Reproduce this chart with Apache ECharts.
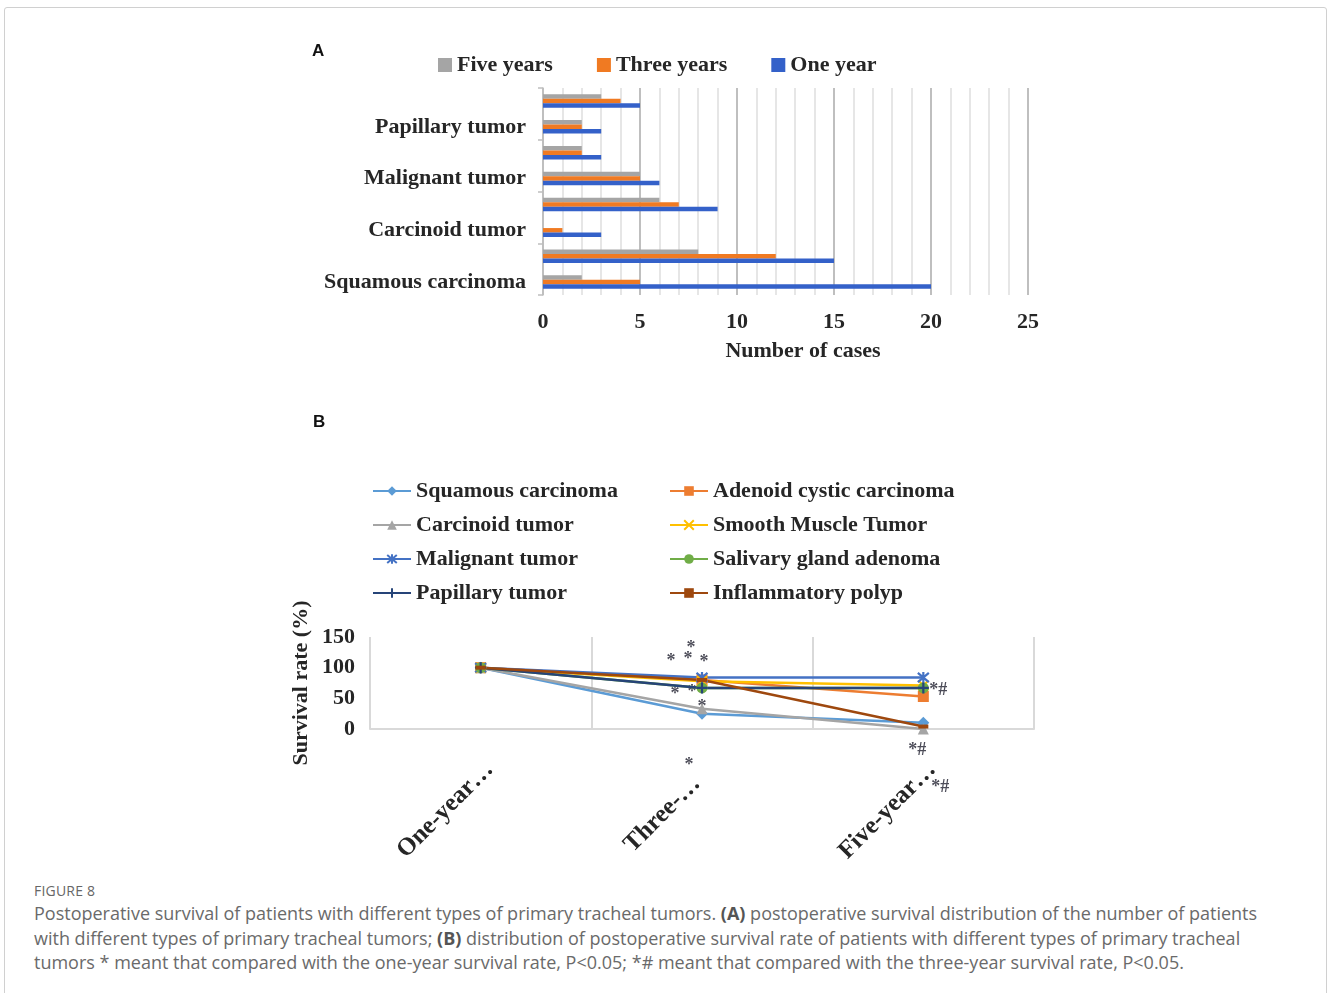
<!DOCTYPE html>
<html>
<head>
<meta charset="utf-8">
<script src="https://cdn.jsdelivr.net/npm/echarts@6/dist/echarts.min.js"></script>
<style>
html,body{margin:0;padding:0;background:#fff;}
#frame{position:absolute;left:4px;top:7px;width:1323px;height:1000px;border:1px solid #d0d0d0;border-radius:3px;box-sizing:border-box;}
#chart{position:absolute;left:0;top:0;width:1328px;height:870px;}
#fig{position:absolute;left:34px;top:881px;font-family:'Open Sans',sans-serif;font-size:14px;color:#666;letter-spacing:0.2px;}
#cap{position:absolute;left:34px;top:901px;font-family:'Open Sans',sans-serif;font-size:18px;line-height:24.5px;color:#6a6a6a;white-space:nowrap;}
#cap b{font-weight:bold;color:#555;}
</style>
</head>
<body>
<div id="frame"></div>
<div id="chart"></div>
<div id="fig">FIGURE 8</div>
<div id="cap">Postoperative survival of patients with different types of primary tracheal tumors. <b>(A)</b> postoperative survival distribution of the number of patients<br>with different types of primary tracheal tumors; <b>(B)</b> distribution of postoperative survival rate of patients with different types of primary tracheal<br>tumors * meant that compared with the one-year survival rate, P&lt;0.05; *# meant that compared with the three-year survival rate, P&lt;0.05.</div>
<script>
// ---------- Panel A data ----------
const tumorTypes = ['Squamous carcinoma','Adenoid cystic carcinoma','Carcinoid tumor','Smooth Muscle Tumor','Malignant tumor','Salivary gland adenoma','Papillary tumor','Inflammatory polyp'];
const oneYearCases   = [20, 15, 3, 9, 6, 3, 3, 5];
const threeYearCases = [5, 12, 1, 7, 5, 2, 2, 4];
const fiveYearCases  = [2, 8, 0, 6, 5, 2, 2, 3];

// ---------- Panel B data ----------
const periods = ['One-year…', 'Three-…', 'Five-year…'];
const squamousRate     = [100, 25, 10];
const adenoidRate      = [100, 80, 53];
const carcinoidRate    = [100, 33, 0];
const smoothMuscleRate = [100, 78, 71];
const malignantRate    = [100, 84, 84];
const salivaryRate     = [100, 67, 67];
const papillaryRate    = [100, 67, 67];
const inflammatoryRate = [100, 80, 4];
// significance marks: [position along period axis (0..3), survival value, text]
const sigMarks = [
  [1.450, 132, '*'], [1.360, 111, '*'], [1.437, 113, '*'], [1.509, 108, '*'],
  [1.378, 57, '*'], [1.455, 60, '*'], [1.500, 36, '*'], [1.441, -60, '*'],
  [2.567, 63, '*#'], [2.472, -34, '*#'], [2.576, -95, '*#']
];

const serif = 'Liberation Serif';
const txt = '#262626';
const big = {fontFamily: serif, fontSize: 22, fontWeight: 'bold', color: txt};
const periodFont = {fontFamily: serif, fontSize: 25, fontWeight: 'bold', color: txt};

const xPath = 'path://M0,0L10,10M10,0L0,10';
const starPath = 'path://M0,0L10,10M10,0L0,10M5,-1L5,11';
const plusPath = 'path://M5,0L5,10M0,5L10,5';
const dashPath = 'path://M0,0L12,0L12,4L0,4Z';

function lineSeries(name, data, color, symbol, size, stroke) {
  return {
    name: name, type: 'line', xAxisIndex: 1, yAxisIndex: 1, data: data,
    symbol: symbol, symbolSize: size,
    lineStyle: {color: color, width: 2.5},
    itemStyle: {color: stroke ? 'rgba(0,0,0,0)' : color, borderColor: color, borderWidth: stroke ? 2.2 : 0},
    emphasis: {disabled: true}, animation: false
  };
}

// per-label nudge styles for the rotated period labels
const periodRich = {
  p0: Object.assign({padding: [0, 0, 0, 0]}, periodFont),
  p1: Object.assign({padding: [0, 20, 0, 0]}, periodFont),
  p2: Object.assign({padding: [0, 0, 0, 0]}, periodFont)
};

const chart = echarts.init(document.getElementById('chart'));
chart.setOption({
  backgroundColor: 'transparent',
  animation: false,
  graphic: [
    {type: 'text', left: 312, top: 43, style: {text: 'A', font: 'bold 17px "Liberation Sans"', fill: '#111'}},
    {type: 'text', left: 313, top: 414, style: {text: 'B', font: 'bold 17px "Liberation Sans"', fill: '#111'}}
  ],
  legend: [
    {data: ['Five years', 'Three years', 'One year'], left: 438, top: 54, padding: 0, itemWidth: 14, itemHeight: 14, itemGap: 44,
     icon: 'rect', textStyle: big},
    {data: ['Squamous carcinoma', 'Carcinoid tumor', 'Malignant tumor', 'Papillary tumor'], orient: 'vertical',
     left: 372, top: 480, padding: 0, itemWidth: 38, itemHeight: 12, itemGap: 12, textStyle: big},
    {data: ['Adenoid cystic carcinoma', 'Smooth Muscle Tumor', 'Salivary gland adenoma', 'Inflammatory polyp'], orient: 'vertical',
     left: 669, top: 480, padding: 0, itemWidth: 38, itemHeight: 12, itemGap: 12, textStyle: big}
  ],
  grid: [
    {left: 543, top: 88, width: 485, height: 207},
    {left: 370, top: 637, width: 664, height: 92}
  ],
  xAxis: [
    {gridIndex: 0, type: 'value', min: 0, max: 25, interval: 5,
     axisLine: {show: false}, axisTick: {show: false},
     axisLabel: Object.assign({margin: 16}, big),
     splitLine: {lineStyle: {color: '#bfbfbf', width: 2}},
     minorTick: {show: false, splitNumber: 5},
     minorSplitLine: {show: true, lineStyle: {color: '#e6e6e6', width: 2}},
     name: 'Number of cases', nameLocation: 'middle', nameGap: 45,
     nameTextStyle: Object.assign({padding: [0, 0, 0, 35]}, big)},
    {gridIndex: 1, type: 'category', data: periods, boundaryGap: true,
     axisLine: {lineStyle: {color: '#d9d9d9', width: 2}}, axisTick: {show: false},
     splitLine: {show: true, lineStyle: {color: '#d9d9d9', width: 2}},
     axisLabel: Object.assign({rotate: 45, interval: 0, margin: 28, verticalAlign: 'top',
       formatter: (v, i) => '{p' + i + '|' + v + '}', rich: periodRich}, periodFont)},
    {gridIndex: 1, type: 'value', min: 0, max: 3, show: false}
  ],
  yAxis: [
    {gridIndex: 0, type: 'category', data: tumorTypes,
     axisLine: {lineStyle: {color: '#bfbfbf', width: 1.5}},
     axisTick: {show: true, length: 5, lineStyle: {color: '#bfbfbf', width: 1.5}},
     axisLabel: Object.assign({interval: 1, margin: 17}, big)},
    {gridIndex: 1, type: 'value', min: 0, max: 150, interval: 50,
     axisLine: {show: false}, axisTick: {show: false}, splitLine: {show: false},
     axisLabel: Object.assign({margin: 15}, big),
     name: 'Survival rate (%)', nameLocation: 'middle', nameGap: 58, nameRotate: 90,
     nameTextStyle: big}
  ],
  series: [
    {name: 'Five years', type: 'bar', xAxisIndex: 0, yAxisIndex: 0, data: fiveYearCases, barWidth: 4.5, barGap: '0%',
     itemStyle: {color: '#a5a5a5'}},
    {name: 'Three years', type: 'bar', xAxisIndex: 0, yAxisIndex: 0, data: threeYearCases, barWidth: 4.5, barGap: '0%',
     itemStyle: {color: '#f07a22'}},
    {name: 'One year', type: 'bar', xAxisIndex: 0, yAxisIndex: 0, data: oneYearCases, barWidth: 4.5, barGap: '0%',
     itemStyle: {color: '#3461c9'}},
    lineSeries('Squamous carcinoma', squamousRate, '#5b9bd5', 'diamond', 12, false),
    lineSeries('Adenoid cystic carcinoma', adenoidRate, '#ed7d31', 'rect', 11, false),
    lineSeries('Carcinoid tumor', carcinoidRate, '#a5a5a5', 'triangle', 11, false),
    lineSeries('Smooth Muscle Tumor', smoothMuscleRate, '#ffc000', xPath, 10, true),
    lineSeries('Malignant tumor', malignantRate, '#4472c4', starPath, 11, true),
    lineSeries('Salivary gland adenoma', salivaryRate, '#70ad47', 'circle', 11, false),
    lineSeries('Papillary tumor', papillaryRate, '#264478', plusPath, 11, true),
    lineSeries('Inflammatory polyp', inflammatoryRate, '#9e480e', dashPath, [10, 4], false),
    {name: 'marks', type: 'scatter', xAxisIndex: 2, yAxisIndex: 1, clip: false, data: sigMarks,
     symbolSize: 1, itemStyle: {color: 'rgba(0,0,0,0)'}, silent: true,
     label: {show: true, position: 'inside', formatter: p => p.data[2],
       fontFamily: serif, fontSize: 18, fontWeight: 'bold', color: '#1f1f2e'}}
  ]
});
</script>
</body>
</html>
